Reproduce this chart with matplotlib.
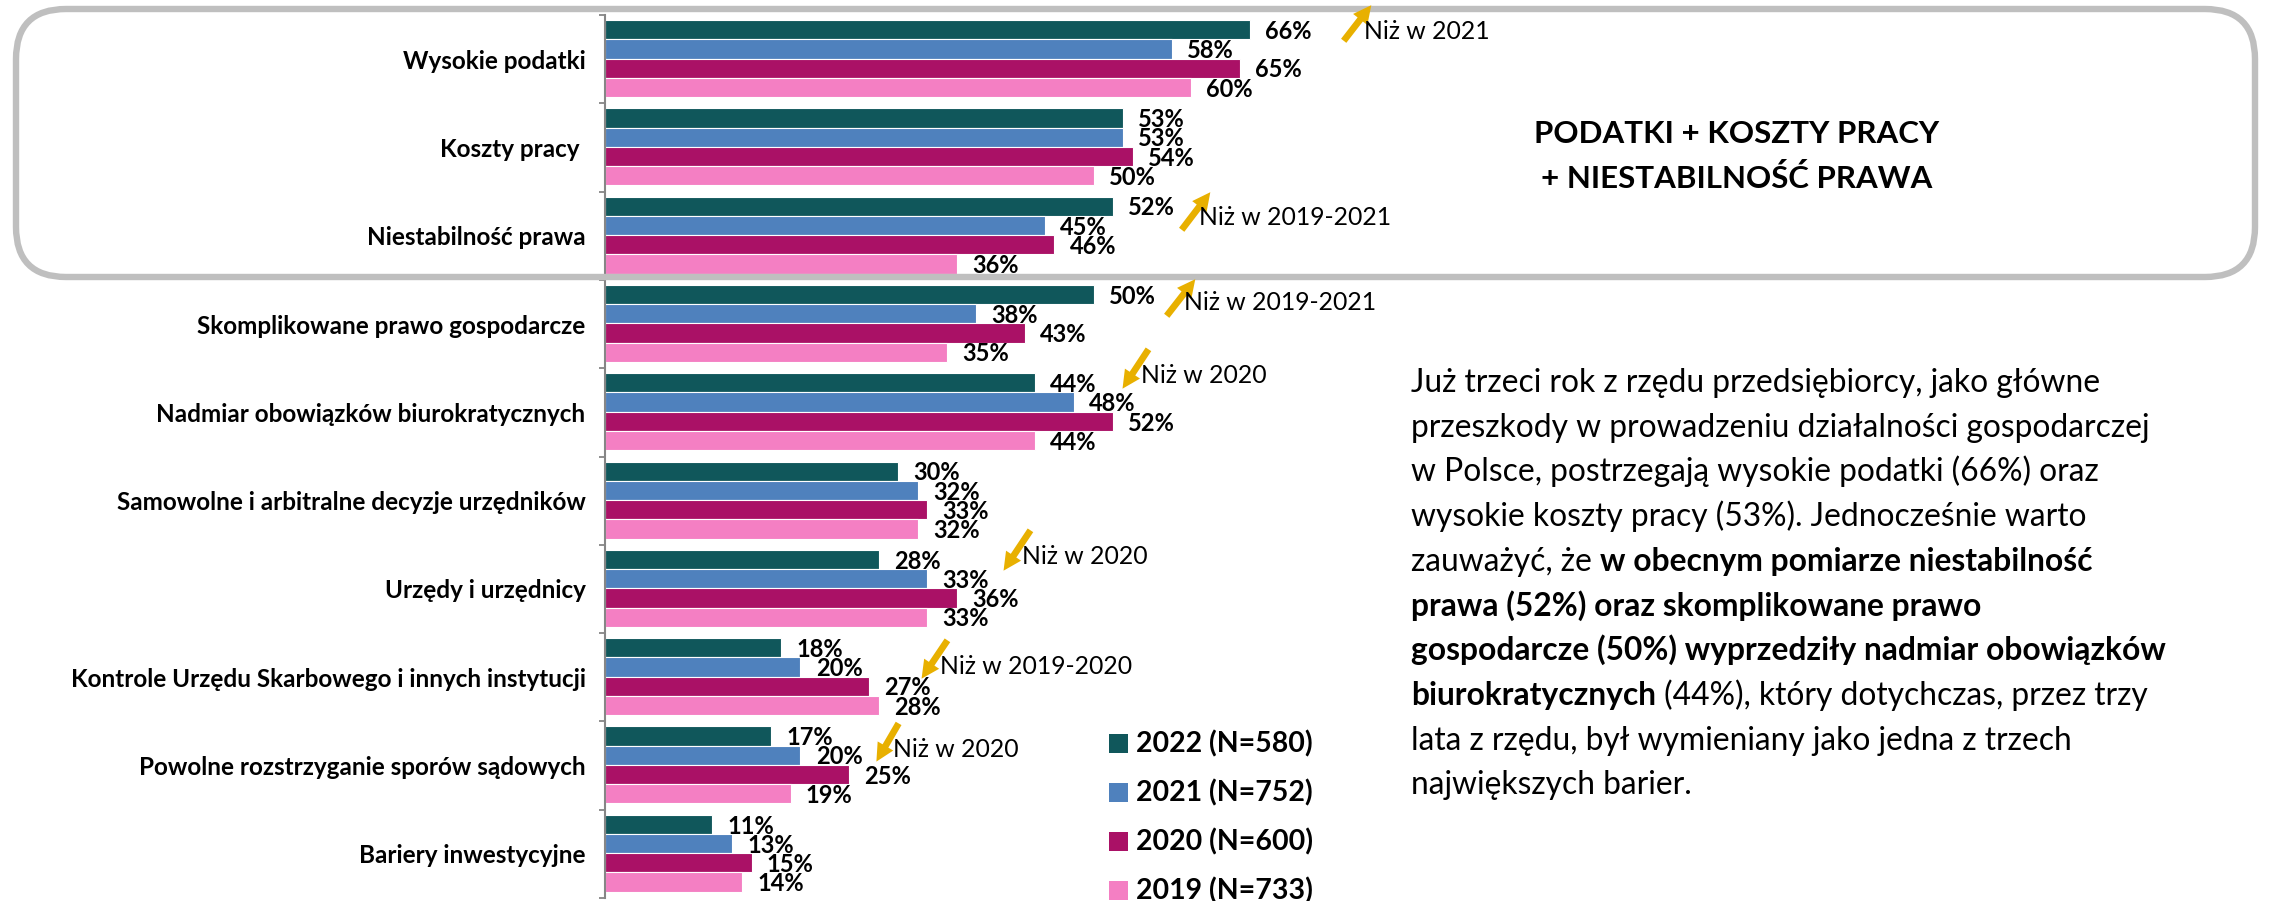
import matplotlib
matplotlib.use("Agg")
import matplotlib.pyplot as plt
import numpy as np
from matplotlib.patches import FancyBboxPatch, FancyArrowPatch, Rectangle, ArrowStyle
from matplotlib.transforms import IdentityTransform

plt.rcParams['font.family'] = ['Lato', 'DejaVu Sans']

W, H = 2276, 901

categories = ["Wysokie podatki", "Koszty pracy ", "Niestabilność prawa",
              "Skomplikowane prawo gospodarcze",
              "Nadmiar obowiązków biurokratycznych",
              "Samowolne i arbitralne decyzje urzędników",
              "Urzędy i urzędnicy",
              "Kontrole Urzędu Skarbowego i innych instytucji",
              "Powolne rozstrzyganie sporów sądowych",
              "Bariery inwestycyjne"]
v2022 = [66, 53, 52, 50, 44, 30, 28, 18, 17, 11]
v2021 = [58, 53, 45, 38, 48, 32, 33, 20, 20, 13]
v2020 = [65, 54, 46, 43, 52, 33, 36, 27, 25, 15]
v2019 = [60, 50, 36, 35, 44, 32, 33, 28, 19, 14]
series_labels = ["2022 (N=580)", "2021 (N=752)", "2020 (N=600)", "2019 (N=733)"]
colors = ["#10575B", "#4F81BD", "#AA1166", "#F47FC3"]

notes = ["Niż w 2021", "Niż w 2019-2021", "Niż w 2019-2021", "Niż w 2020",
         "Niż w 2020", "Niż w 2019-2020", "Niż w 2020"]
# (arrow start, arrow end, text left/baseline) in pixels from top-left
note_pos = [((1342, 43), (1373, 3), (1364, 39)),
            ((1180, 232), (1212, 190), (1199, 225)),
            ((1165, 318), (1197, 277), (1184, 310)),
            ((1150, 347), (1121, 391), (1141, 383)),
            ((1032, 528), (1002, 573), (1022, 564)),
            ((949, 638), (920, 681), (940, 674)),
            ((900, 721), (875, 764), (893, 757))]

title_lines = ["PODATKI + KOSZTY PRACY", "+ NIESTABILNOŚĆ PRAWA"]

para_lines = [
    [("Już trzeci rok z rzędu przedsiębiorcy, jako główne", False)],
    [("przeszkody w prowadzeniu działalności gospodarczej", False)],
    [("w Polsce, postrzegają wysokie podatki (66%) oraz", False)],
    [("wysokie koszty pracy (53%). Jednocześnie warto", False)],
    [("zauważyć, że ", False), ("w obecnym pomiarze niestabilność", True)],
    [("prawa (52%) oraz skomplikowane prawo", True)],
    [("gospodarcze (50%) wyprzedziły nadmiar obowiązków", True)],
    [("biurokratycznych", True), (" (44%), który dotychczas, przez trzy", False)],
    [("lata z rzędu, był wymieniany jako jedna z trzech", False)],
    [("największych barier.", False)],
]

fig = plt.figure(figsize=(W / 100, H / 100), dpi=100)
fig.patch.set_facecolor("white")
px = IdentityTransform()

ax = fig.add_axes([605 / W, 1 - 898 / H, 977 / W, 883 / H])
n = len(categories)
slot = 0.218
start = 0.057
for j, vals in enumerate([v2022, v2021, v2020, v2019]):
    y = np.arange(n) + start + slot * (j + 0.5)
    bars = ax.barh(y, vals, height=slot, color=colors[j], edgecolor="white",
                   linewidth=0.8, zorder=2)
    for b, v in zip(bars, vals):
        ax.annotate(f"{v}%", (b.get_width(), b.get_y() + b.get_height() / 2),
                    xytext=(11, -1.2), textcoords="offset points",
                    ha="left", va="center", fontsize=17, fontweight="bold")

ax.set_xlim(0, 100)
ax.set_ylim(n, 0)
ax.set_yticks(np.arange(n) + 0.5)
ax.set_yticklabels(categories, fontsize=17.5, fontweight="bold")
ax.set_yticks(np.arange(n + 1), minor=True)
ax.tick_params(axis="y", which="major", length=0, pad=14)
ax.tick_params(axis="y", which="minor", length=4, width=1.3, color="#868686")
ax.set_xticks([])
for s in ["top", "right", "bottom"]:
    ax.spines[s].set_visible(False)
ax.spines["left"].set_color("#868686")
ax.spines["left"].set_linewidth(1.5)

# rounded frame around the first three categories
box = FancyBboxPatch((16, H - 277), 2255 - 16, 277 - 9,
                     boxstyle="round,pad=0,rounding_size=50",
                     transform=px, fill=False, edgecolor="#BFBFBF",
                     linewidth=4.6, zorder=5)
fig.add_artist(box)

for s, (p0, p1, pt) in zip(notes, note_pos):
    arr = FancyArrowPatch((p0[0], H - p0[1]), (p1[0], H - p1[1]), transform=px,
                          arrowstyle=ArrowStyle.Simple(head_length=13, head_width=13,
                                                       tail_width=4.8),
                          color="#E8B000", linewidth=0, zorder=6)
    fig.add_artist(arr)
    fig.text(pt[0], H - pt[1], s, transform=px, fontsize=17.8, ha="left",
             va="baseline", zorder=7)

for i, s in enumerate(title_lines):
    fig.text(1737, H - (143 + 45 * i), s, transform=px, fontsize=22.5,
             fontweight="bold", ha="center", va="baseline")

renderer = fig.canvas.get_renderer()
for i, line in enumerate(para_lines):
    x = 1411
    y = H - (392 + 44.7 * i)
    for s, bold in line:
        t = fig.text(x, y, s, transform=px, fontsize=22.9, ha="left", va="baseline",
                     fontweight="bold" if bold else "normal")
        x = t.get_window_extent(renderer).x1

# legend
for j, s in enumerate(series_labels):
    cy = 743 + 49 * j
    fig.add_artist(Rectangle((1109, H - cy - 9.5), 19, 19, transform=px,
                             facecolor=colors[j], edgecolor="none"))
    fig.text(1136, H - cy - 9.5, s, transform=px, fontsize=20.5,
             fontweight="bold", ha="left", va="baseline")

fig.savefig("out.png", dpi=100)
